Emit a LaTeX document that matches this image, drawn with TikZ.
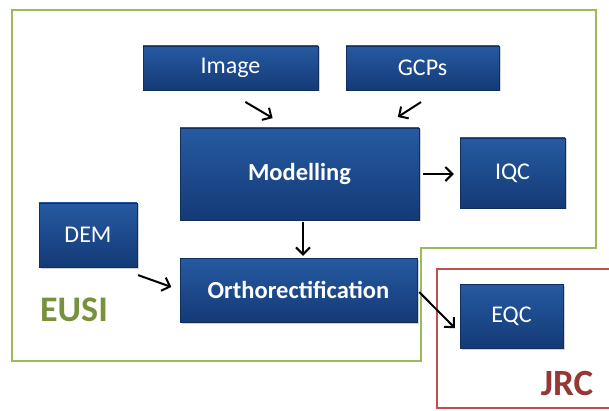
\documentclass[tikz,border=0pt]{standalone}
\usepackage{fontspec}
\setmainfont{Carlito}
\usetikzlibrary{positioning, calc, arrows.meta, shadows}
\definecolor{boxtop}{RGB}{38,90,162}
\definecolor{boxbot}{RGB}{20,58,118}
\definecolor{eusigreen}{RGB}{155,187,89}
\definecolor{eusitext}{RGB}{118,146,60}
\definecolor{jrcred}{RGB}{192,80,77}
\definecolor{jrctext}{RGB}{149,55,53}
\tikzset{
    blok/.style={rectangle, inner sep=0pt, top color=boxtop, bottom color=boxbot, draw=boxbot!80!black, line width=0.4pt, text=white, font=\fontsize{24}{26}\selectfont, drop shadow={shadow xshift=1.5pt, shadow yshift=-1.5pt, opacity=0.35}},
    freccia/.style={-{Straight Barb[length=7pt,width=14pt]}, line width=2pt, black}
}
\begin{document}
\begin{tikzpicture}[x=1pt,y=1pt]
        \useasboundingbox (0,-411) rectangle (609,0);
        \clip (0,-411) rectangle (609,0);
        %riquadro EUSI
        \draw[eusigreen, line width=2.8pt] (12,-10) -- (596,-10) -- (596,-248) -- (421,-248) -- (421,-361) -- (12,-361) -- cycle;
        %riquadro JRC
        \draw[jrcred, line width=2.8pt] (437,-269) rectangle (620,-408);
        %blocchi
        \node[blok, minimum width=175, minimum height=44] (img) at (230.5,-68) {Image};
        \node[blok, minimum width=153, minimum height=44] (gcp) at (422.5,-68) {GCPs};
        \node[blok, minimum width=239, minimum height=92, font=\fontsize{24.5}{26}\selectfont\bfseries] (mod) at (299.5,-174) {Modelling};
        \node[blok, minimum width=105, minimum height=70] (iqc) at (512.5,-173) {IQC};
        \node[blok, minimum width=98, minimum height=64] (dem) at (88,-235) {DEM};
        \node[blok, minimum width=237, minimum height=64, font=\fontsize{24.5}{26}\selectfont\bfseries] (orto) at (298.5,-290) {Orthorectification};
        \node[blok, minimum width=103, minimum height=64] (eqc) at (511.5,-316) {EQC};
        %etichette
        \node[text=eusitext, font=\fontsize{36}{38}\selectfont\bfseries] (eusi) at (74,-310) {EUSI};
        \node[text=jrctext, font=\fontsize{37}{39}\selectfont\bfseries] (jrc) at (567,-383) {JRC};
        %frecce
        \draw[freccia, shorten <=23pt, shorten >=19pt] ($(img.south)+(-5,0)$) -- ($(mod.north)+(-10.5,0)$);
        \draw[freccia, shorten <=22pt, shorten >=20pt] ($(gcp.south)+(17,0)$) -- ($(mod.north)+(81.5,0)$);
        \draw[freccia, shorten <=4pt, shorten >=6pt] (mod.east) -- (mod.east -| iqc.west);
        \draw[freccia, shorten <=2pt, shorten >=2pt] ($(mod.south)+(3.5,0)$) -- ($(orto.north)+(4.5,0)$);
        \draw[freccia, shorten <=1pt, shorten >=9pt] ($(dem.south east)+(0,-7.6)$) -- (orto.west);
        \draw[freccia, shorten <=3pt, shorten >=7pt] (orto.east) -- ($(eqc.west)+(0,-17)$);
    \end{tikzpicture}
\end{document}
